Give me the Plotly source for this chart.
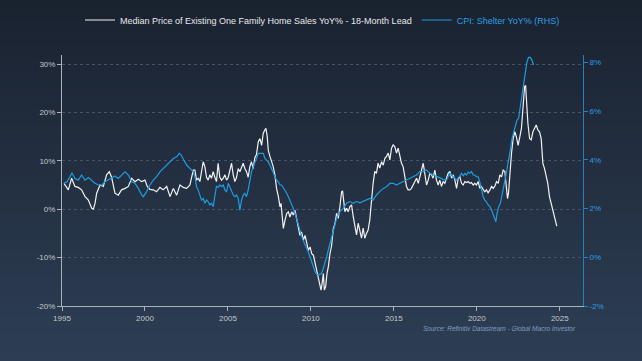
import zlib, struct, base64
import plotly.graph_objects as go

# ---------------- data ----------------
home_x = [1995.12,1995.38,1995.58,1995.78,1995.98,1996.18,1996.39,1996.59,1996.79,1996.89,1996.99,1997.09,1997.29,1997.49,1997.69,1997.85,1997.99,
          1998.19,1998.39,1998.59,1998.80,1999.00,1999.20,1999.40,1999.60,1999.80,2000.00,2000.14,2000.30,2000.50,2000.70,2000.90,2001.10,2001.31,
          2001.51,2001.71,2001.91,2002.11,2002.31,2002.51,2002.71,2002.91,2003.01,2003.11,2003.21,2003.31,2003.41,2003.51,2003.61,2003.71,2003.81,
          2003.91,2004.01,2004.11,2004.21,2004.31,2004.41,2004.51,2004.62,2004.72,2004.82,2004.92,2005.02,2005.12,2005.22,2005.32,2005.42,2005.52,
          2005.62,2005.72,2005.82,2005.92,2006.02,2006.12,2006.22,2006.32,2006.42,2006.52,2006.62,2006.72,2006.83,2006.93,2007.03,2007.13,2007.23,
          2007.29,2007.37,2007.43,2007.53,2007.63,2007.73,2007.83,2007.93,2008.04,2008.14,2008.20,2008.28,2008.34,2008.44,2008.54,2008.64,2008.74,
          2008.84,2008.94,2009.04,2009.14,2009.24,2009.34,2009.44,2009.55,2009.65,2009.75,2009.85,2009.95,2010.05,2010.15,2010.25,2010.35,2010.45,
          2010.55,2010.61,2010.69,2010.75,2010.81,2010.89,2010.97,2011.05,2011.15,2011.25,2011.35,2011.45,2011.55,2011.65,2011.75,2011.85,2011.91,
          2011.99,2012.05,2012.15,2012.25,2012.35,2012.45,2012.55,2012.65,2012.75,2012.85,2012.95,2013.05,2013.15,2013.25,2013.35,2013.45,2013.55,
          2013.65,2013.75,2013.85,2013.95,2014.05,2014.15,2014.26,2014.36,2014.46,2014.56,2014.66,2014.76,2014.86,2014.96,2015.06,2015.16,2015.26,
          2015.36,2015.46,2015.56,2015.66,2015.76,2015.86,2015.96,2016.06,2016.16,2016.26,2016.37,2016.47,2016.57,2016.67,2016.77,2016.87,2016.97,
          2017.07,2017.17,2017.27,2017.37,2017.47,2017.57,2017.67,2017.77,2017.87,2017.97,2018.07,2018.17,2018.27,2018.38,2018.48,2018.58,2018.68,
          2018.78,2018.88,2018.98,2019.08,2019.18,2019.28,2019.38,2019.48,2019.58,2019.68,2019.78,2019.88,2019.98,2020.08,2020.18,2020.28,2020.38,
          2020.48,2020.58,2020.68,2020.79,2020.89,2020.99,2021.09,2021.19,2021.29,2021.39,2021.49,2021.59,2021.69,2021.79,2021.85,2021.91,2021.99,
          2022.09,2022.19,2022.29,2022.39,2022.49,2022.59,2022.69,2022.78,2022.88,2022.94,2023.00,2023.08,2023.18,2023.28,2023.38,2023.48,2023.58,
          2023.68,2023.78,2023.88,2023.98,2024.08,2024.18,2024.28,2024.38,2024.48,2024.58,2024.68,2024.82]
home_yoy = [5.35,4.0,6.4,4.7,4.5,4.0,2.6,1.9,0.2,0.0,1.2,3.3,5.0,4.7,7.1,7.75,6.6,
            3.3,2.9,4.0,4.3,4.7,6.4,5.7,6.2,5.7,6.0,4.7,4.1,4.0,3.6,4.5,4.0,4.7,
            2.6,4.3,2.9,5.0,4.5,4.3,5.0,8.1,8.1,6.0,6.4,5.7,7.75,9.8,8.8,6.6,6.0,
            7.1,6.4,7.75,6.6,5.7,9.5,6.6,6.0,6.4,7.1,6.0,6.6,8.1,9.5,7.1,5.7,6.6,
            8.4,7.75,8.8,9.5,8.4,7.75,6.6,8.8,9.8,8.4,10.6,11.3,13.95,14.6,13.2,15.7,16.4,
            16.7,15.0,12.2,10.9,9.8,8.8,7.1,4.3,2.6,0.5,1.2,-1.2,-3.95,-2.25,-0.9,-0.55,-1.6,
            -0.55,-1.2,-0.2,-2.25,-4.3,-5.4,-4.7,-6.4,-5.4,-7.1,-8.5,-7.8,-9.2,-9.5,-11.2,-12.6,-14.3,
            -15.7,-16.7,-15.0,-13.3,-16.7,-16.0,-13.3,-11.9,-9.2,-7.5,-4.0,-3.0,-0.85,-1.9,0.56,3.6,3.8,
            0.56,-0.5,0.2,-0.5,0.56,0.9,-1.5,-3.6,-5.3,-2.9,-4.6,-6.0,-3.9,-6.0,-5.0,-4.3,-2.2,
            2.0,5.35,7.8,7.4,9.5,8.5,9.8,9.1,10.5,10.9,11.6,10.2,12.6,13.3,12.9,11.6,12.6,
            10.9,9.5,8.8,6.7,4.7,4.0,4.0,4.3,5.0,5.7,6.4,5.35,7.1,8.1,9.5,7.1,5.0,
            6.0,7.4,7.1,6.4,8.1,6.0,5.0,6.0,4.7,5.7,5.35,6.4,7.4,7.8,6.4,7.1,6.0,
            4.3,6.4,6.7,5.35,5.0,5.7,5.5,5.7,5.35,5.5,5.0,5.35,5.0,5.7,4.3,4.7,4.1,
            3.6,4.0,3.4,4.0,4.7,4.3,4.8,5.7,5.35,7.1,6.7,8.1,7.8,4.3,2.2,3.3,7.4,
            11.5,14.6,16.0,14.9,13.2,14.9,16.7,20.8,25.3,25.6,21.9,17.7,14.6,14.3,16.0,16.7,17.4,
            16.4,16.0,14.6,9.5,8.4,7.1,5.35,2.6,1.2,-0.2,-1.6,-3.5]

shelter_x = [1995.12,1995.30,1995.48,1995.60,1995.78,1995.98,1996.18,1996.39,1996.59,1996.79,1996.99,1997.19,1997.39,1997.59,1997.79,1997.99,
             1998.19,1998.39,1998.59,1998.80,1999.00,1999.20,1999.40,1999.60,1999.80,1999.90,2000.10,2000.30,2000.50,2000.70,2000.90,2001.10,
             2001.31,2001.51,2001.71,2001.91,2002.07,2002.15,2002.31,2002.51,2002.71,2002.91,2003.01,2003.11,2003.21,2003.31,2003.41,2003.51,
             2003.61,2003.71,2003.81,2003.91,2004.01,2004.11,2004.21,2004.31,2004.41,2004.51,2004.62,2004.72,2004.82,2004.92,2005.02,2005.12,
             2005.22,2005.32,2005.42,2005.52,2005.62,2005.72,2005.82,2005.92,2006.02,2006.12,2006.22,2006.32,2006.42,2006.52,2006.62,2006.72,
             2006.83,2006.93,2007.03,2007.13,2007.23,2007.33,2007.43,2007.53,2007.63,2007.73,2007.83,2007.93,2008.04,2008.14,2008.24,2008.34,
             2008.44,2008.54,2008.64,2008.74,2008.84,2008.94,2009.04,2009.14,2009.24,2009.34,2009.44,2009.55,2009.65,2009.75,2009.85,2009.95,
             2010.05,2010.15,2010.25,2010.35,2010.45,2010.55,2010.65,2010.75,2010.85,2010.95,2011.05,2011.15,2011.25,2011.35,2011.45,2011.55,
             2011.75,2011.95,2012.15,2012.35,2012.55,2012.75,2012.95,2013.15,2013.35,2013.55,2013.75,2013.95,2014.15,2014.36,2014.56,2014.76,
             2014.96,2015.16,2015.36,2015.56,2015.76,2015.96,2016.16,2016.37,2016.57,2016.77,2016.97,2017.17,2017.37,2017.57,2017.77,2017.97,
             2018.17,2018.38,2018.58,2018.78,2018.98,2019.08,2019.18,2019.28,2019.38,2019.48,2019.58,2019.68,2019.78,2019.88,2019.98,2020.08,
             2020.18,2020.28,2020.38,2020.48,2020.58,2020.68,2020.79,2020.89,2020.99,2021.09,2021.15,2021.22,2021.32,2021.42,2021.52,2021.62,
             2021.72,2021.82,2021.92,2022.02,2022.12,2022.22,2022.32,2022.42,2022.52,2022.62,2022.72,2022.82,2022.92,2023.02,2023.12,2023.22,
             2023.32,2023.42]
shelter_yoy = [3.04,3.1,3.31,3.47,3.24,3.17,3.38,3.17,3.28,3.17,3.04,2.97,2.97,3.1,3.17,3.24,
               3.34,3.24,3.38,3.51,3.38,3.1,3.04,2.83,2.56,2.49,2.7,2.97,3.17,3.31,3.51,3.65,
               3.79,3.92,4.06,4.13,4.27,4.23,4.06,3.79,3.65,3.51,3.3,2.9,2.76,2.56,2.35,2.42,
               2.22,2.35,2.28,2.15,2.22,2.08,2.49,2.93,2.87,2.97,2.9,2.97,2.76,2.7,3.04,2.9,
               2.76,2.56,2.49,2.56,2.42,1.94,2.35,2.56,2.63,2.49,2.76,3.17,3.51,3.72,3.86,4.06,
               4.27,4.27,4.3,4.27,4.06,3.99,3.92,3.79,3.65,3.51,3.31,3.17,3.1,2.97,2.97,2.87,
               2.76,2.63,2.49,2.35,2.22,2.01,1.81,1.6,1.33,1.13,0.86,0.65,0.51,0.37,0.23,0.02,
               -0.18,-0.39,-0.59,-0.7,-0.73,-0.69,-0.66,-0.45,-0.25,0.02,0.3,0.57,0.85,1.1,1.3,1.6,
               1.88,2.01,2.22,2.29,2.22,2.29,2.24,2.29,2.35,2.42,2.35,2.56,2.7,2.83,2.9,3.04,
               3.04,2.97,3.04,3.1,3.17,3.24,3.31,3.38,3.52,3.52,3.59,3.45,3.38,3.31,3.24,3.2,
               3.17,3.45,3.31,3.17,3.35,3.45,3.35,3.45,3.38,3.5,3.45,3.52,3.38,3.38,3.31,3.31,
               3.1,2.76,2.49,2.35,2.28,2.15,2.08,1.94,1.74,1.53,1.46,1.81,2.08,2.22,2.63,2.9,
               3.24,3.58,3.99,4.4,4.88,5.16,5.43,5.64,5.71,6.18,6.73,7.28,7.69,8.03,8.21,8.21,
               8.1,7.9]

left_ticks = [-20, -10, 0, 10, 20, 30]
left_labels = ["-20%", "-10%", "0%", "10%", "20%", "30%"]
right_ticks = [-2, 0, 2, 4, 6, 8]
right_labels = ["-2%", "0%", "2%", "4%", "6%", "8%"]
year_ticks = [1995, 2000, 2005, 2010, 2015, 2020, 2025]
year_labels = ["1995", "2000", "2005", "2010", "2015", "2020", "2025"]

# ---------------- styling ----------------
W, H = 642, 361
ML, MR, MT, MB = 62, 59, 55, 55
PW, PH = W - ML - MR, H - MT - MB
BLUE = "#1f9be0"
FONT = "Liberation Sans"


def gradient_png(top, bottom, h=361, w=4):
    raw = b""
    for i in range(h):
        t = i / (h - 1)
        px = bytes(round(top[k] + (bottom[k] - top[k]) * t) for k in range(3))
        raw += b"\x00" + px * w

    def chunk(tag, data):
        c = struct.pack(">I", len(data)) + tag + data
        return c + struct.pack(">I", zlib.crc32(tag + data) & 0xFFFFFFFF)

    png = (b"\x89PNG\r\n\x1a\n"
           + chunk(b"IHDR", struct.pack(">IIBBBBB", w, h, 8, 2, 0, 0, 0))
           + chunk(b"IDAT", zlib.compress(raw))
           + chunk(b"IEND", b""))
    return "data:image/png;base64," + base64.b64encode(png).decode()


fig = go.Figure()
fig.add_trace(go.Scatter(
    x=home_x, y=home_yoy, mode="lines",
    name="Median Price of Existing One Family Home Sales YoY% - 18-Month Lead",
    line=dict(color="#f2f2f2", width=1.2), yaxis="y"))
fig.add_trace(go.Scatter(
    x=shelter_x, y=shelter_yoy, mode="lines",
    name="<span style='color:#2a9fe0'>CPI: Shelter YoY% (RHS)</span>",
    line=dict(color=BLUE, width=1.2), yaxis="y2"))

axis_font = dict(family=FONT, size=8, color="#c3c8cf")
fig.update_layout(
    width=W, height=H,
    margin=dict(l=ML, r=MR, t=MT, b=MB, pad=0, autoexpand=False),
    paper_bgcolor="#25324a", plot_bgcolor="rgba(0,0,0,0)",
    font=dict(family=FONT, color="#e8e8e8"),
    showlegend=True,
    legend=dict(orientation="h", x=0.5, xanchor="center", y=1 + (MT - 20) / PH, yanchor="middle",
                font=dict(family=FONT, size=9, color="#e8e8e8"), bgcolor="rgba(0,0,0,0)",
                itemwidth=30, tracegroupgap=0),
    xaxis=dict(range=[1995, 2026.4], tickvals=year_ticks, ticktext=year_labels,
               showgrid=False, zeroline=False, showline=True, linecolor="#aab2bc", linewidth=1,
               ticks="outside", ticklen=4, tickcolor="#aab2bc", tickfont=axis_font),
    yaxis=dict(range=[-20, 31.86], tickvals=left_ticks, ticktext=left_labels,
               showgrid=True, gridcolor="#46536a", griddash="3px,3px", gridwidth=1,
               zeroline=False, showline=True, linecolor="#aab2bc", linewidth=1,
               ticks="outside", ticklen=4, tickcolor="#aab2bc", tickfont=axis_font),
    yaxis2=dict(range=[-2, 8.31], tickvals=right_ticks, ticktext=right_labels,
                overlaying="y", side="right", showgrid=False, zeroline=False,
                showline=True, linecolor="#2a7fb8", linewidth=1,
                ticks="outside", ticklen=4, tickcolor="#2a7fb8",
                tickfont=dict(family=FONT, size=8, color="#2a9fe0")),
    images=[dict(source=gradient_png((26, 34, 48), (45, 62, 84)),
                 xref="paper", yref="paper", x=-ML / PW, y=1 + MT / PH,
                 sizex=W / PW, sizey=H / PH, xanchor="left", yanchor="top",
                 sizing="stretch", layer="below")],
    annotations=[dict(text="<i>Source: Refinitiv Datastream - Global Macro Investor</i>",
                      xref="paper", yref="paper", x=(578 - ML) / PW, y=-(328 - (MT + PH)) / PH,
                      xanchor="right", yanchor="middle", showarrow=False,
                      font=dict(family=FONT, size=6.5, color="#7f9cc4"))],
)

fig.write_html("out.html", config={"displayModeBar": False},
               post_script="document.body.style.margin='0';document.body.style.overflow='hidden';")
